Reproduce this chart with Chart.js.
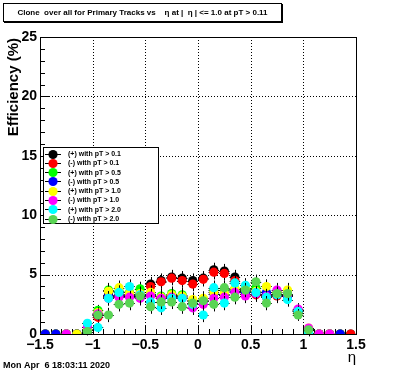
<!DOCTYPE html>
<html><head><meta charset="utf-8">
<script src="https://cdn.jsdelivr.net/npm/chart.js@4.4.1/dist/chart.umd.min.js"></script>
<style>html,body{margin:0;padding:0;background:#fff;overflow:hidden}canvas{display:block}</style>
</head><body>
<canvas id="c" width="396" height="372"></canvas>
<script>
// ---- data ----
const etaCenters = [-1.45,-1.35,-1.25,-1.15,-1.05,-0.95,-0.85,-0.75,-0.65,-0.55,-0.45,-0.35,-0.25,-0.15,-0.05,
                     0.05, 0.15, 0.25, 0.35, 0.45, 0.55, 0.65, 0.75, 0.85, 0.95, 1.05, 1.15, 1.25, 1.35, 1.45];
const seriesLabels = ["(+) with pT > 0.1","(-) with pT > 0.1","(+) with pT > 0.5","(-) with pT > 0.5",
                      "(+) with pT > 1.0","(-) with pT > 1.0","(+) with pT > 2.0","(-) with pT > 2.0"];
const seriesColors = ["#000000","#ff0000","#00ff00","#0000ff","#ffff00","#ff00ff","#00ffff","#59d454"];
const posPt01 = [0,0,0,0,0.3,1.7,3.3,3.3,3.3,3.4,4.2,4.5,4.8,4.7,4.5,4.7,5.4,5.3,4.8,3.6,3.5,3.3,3.4,3.3,1.9,0.3,0,0,0,0];
const negPt01 = [0,0,0,0,0.2,1.4,3.1,3.2,3.2,3.3,4.0,4.4,4.7,4.5,4.2,4.6,5.2,5.1,4.5,3.4,3.3,3.1,3.2,3.2,1.8,0.3,0,0,0,0];
const posPt05 = [0,0,0,0,0.3,2.0,3.7,3.6,3.5,3.8,3.4,3.2,3.4,3.3,2.8,2.9,3.7,3.7,3.8,3.9,3.9,3.4,3.5,3.3,1.9,0.4,0,0,0,null];
const negPt05 = [0,0,0,0,0.2,1.6,3.2,3.2,3.2,3.1,3.3,3.0,3.2,3.1,2.6,2.8,3.4,3.3,3.6,3.5,3.4,3.5,3.3,3.2,2.0,0.4,0,0,0,null];
const posPt10 = [null,null,0,0,0.4,1.8,3.6,3.9,3.4,3.4,3.5,3.1,3.3,3.2,2.9,3.0,3.5,3.4,3.8,3.8,3.6,4.0,3.5,3.7,2.0,0.5,0,0,null,null];
const negPt10 = [null,null,0,null,0.6,1.7,3.0,3.1,3.1,3.0,3.2,3.0,3.1,3.0,2.2,2.5,3.0,3.1,3.5,3.2,3.4,3.2,3.7,3.3,2.1,0.5,0,0,null,null];
const posPt20 = [null,null,null,null,0.9,0.55,3.0,3.5,4.0,3.3,2.7,2.2,3.0,3.0,2.5,1.6,3.9,2.6,4.3,4.1,3.5,3.1,3.3,2.9,1.9,0.1,null,null,null,null];
const negPt20 = [null,null,null,null,0.2,1.6,1.6,2.5,2.6,3.2,2.3,2.7,2.7,2.3,2.6,2.8,2.5,3.9,3.1,3.7,4.4,2.6,3.4,3.4,1.6,0.35,null,null,null,null];
const errY = [0,0,0,0,0.3,0.45,0.6,0.6,0.6,0.6,0.6,0.6,0.6,0.6,0.6,0.6,0.6,0.6,0.6,0.6,0.6,0.6,0.6,0.6,0.5,0.3,0,0,0,0];
const binHalfWidth = 0.05;
const xTickValues = [-1.5,-1,-0.5,0,0.5,1,1.5];
const yTickValues = [0,5,10,15,20,25];
const titleText = "Clone  over all for Primary Tracks vs    \u03b7 at |  \u03b7 | <= 1.0 at pT > 0.11";
const yTitle = "Efficiency (%)";
const xTitle = "\u03b7";
const dateText = "Mon Apr  6 18:03:11 2020";

const allSeries = [posPt01,negPt01,posPt05,negPt05,posPt10,negPt10,posPt20,negPt20];
const FONT = "'Liberation Sans', Arial, Helvetica, sans-serif";

const datasets = allSeries.map((vals,i)=>({
  label: seriesLabels[i],
  data: etaCenters.map((x,j)=> vals[j]===null ? null : {x:x, y:vals[j]}).filter(p=>p!==null),
  errs: etaCenters.map((x,j)=> vals[j]===null ? null : errY[j]).filter(e=>e!==null),
  backgroundColor: seriesColors[i],
  borderColor: seriesColors[i],
  pointRadius: 4.6,
  pointBorderWidth: 0,
  pointHoverRadius: 4.6,
  showLine: false,
  order: 8 - i
}));

const decor = {
  id: 'decor',
  beforeDraw(chart){
    const c = chart.ctx; c.save(); c.fillStyle='#fff'; c.fillRect(0,0,chart.width,chart.height); c.restore();
  },
  beforeDatasetsDraw(chart){
    const c = chart.ctx, a = chart.chartArea, xs = chart.scales.x, ys = chart.scales.y;
    c.save();
    // dotted grid
    c.strokeStyle = '#000'; c.lineWidth = 1; c.setLineDash([1,2]);
    xTickValues.slice(1,-1).forEach(v=>{ const px = Math.round(xs.getPixelForValue(v))+0.5;
      c.beginPath(); c.moveTo(px,a.top); c.lineTo(px,a.bottom); c.stroke(); });
    yTickValues.slice(1,-1).forEach(v=>{ const py = Math.round(ys.getPixelForValue(v))+0.5;
      c.beginPath(); c.moveTo(a.left,py); c.lineTo(a.right,py); c.stroke(); });
    c.setLineDash([]);
    // frame
    c.strokeRect(Math.round(a.left)+0.5, Math.round(a.top)+0.5, Math.round(a.right-a.left), Math.round(a.bottom-a.top));
    // x ticks
    for (let k=0;k<=30;k++){
      const v = -1.5 + k*0.1; const px = Math.round(xs.getPixelForValue(v))+0.5;
      const len = (k%5===0)?9:5;
      c.beginPath(); c.moveTo(px,a.bottom); c.lineTo(px,a.bottom-len); c.stroke();
    }
    // y ticks
    for (let k=0;k<=25;k++){
      const py = Math.round(ys.getPixelForValue(k))+0.5;
      const len = (k%5===0)?9:5;
      c.beginPath(); c.moveTo(a.left,py); c.lineTo(a.left+len,py); c.stroke();
    }
    c.restore();
  },
  beforeDatasetDraw(chart, args){
    const c = chart.ctx, xs = chart.scales.x, ys = chart.scales.y;
    const ds = chart.data.datasets[args.index];
    const r = 4.6;
    c.save(); c.strokeStyle='#000'; c.lineWidth=1;
    ds.data.forEach((p,j)=>{
      const px = xs.getPixelForValue(p.x), py = ys.getPixelForValue(p.y);
      const xl = xs.getPixelForValue(p.x-binHalfWidth), xr = xs.getPixelForValue(p.x+binHalfWidth);
      const e = ds.errs[j];
      const yt = ys.getPixelForValue(p.y+e), yb = ys.getPixelForValue(p.y-e);
      const cx = Math.round(px)+0.5, cy = Math.round(py)+0.5;
      c.beginPath();
      c.moveTo(xl,cy); c.lineTo(xr,cy);
      if (e>0){ c.moveTo(cx,yt); c.lineTo(cx,yb); }
      c.stroke();
    });
    c.restore();
  },
  afterDraw(chart){
    const c = chart.ctx, a = chart.chartArea;
    c.save();
    // title box
    c.fillStyle='#fff'; c.fillRect(3,3,279,19);
    c.strokeStyle='#000'; c.lineWidth=1; c.strokeRect(3.5,3.5,278,18);
    c.fillStyle='#000'; c.fillRect(4,22,279,1); c.fillRect(282,4,1,19);
    c.font = "bold 8px "+FONT; c.textAlign='center'; c.textBaseline='middle';
    c.fillText(titleText, 142.5, 13);
    // y title
    c.save(); c.translate(14, 38); c.rotate(-Math.PI/2);
    c.font = "bold 15px "+FONT; c.textAlign='right'; c.textBaseline='middle';
    c.fillText(yTitle, 0, 0); c.restore();
    // x title
    c.font = "15px "+FONT; c.textAlign='right'; c.textBaseline='middle';
    c.fillText(xTitle, a.right, 358);
    // date
    c.font = "bold 9px "+FONT; c.textAlign='left'; c.textBaseline='alphabetic';
    c.fillText(dateText, 3, 368);
    // legend
    const lx=43, ly=147, lw=115, lh=76;
    c.fillStyle='#fff'; c.fillRect(lx,ly,lw,lh);
    c.strokeStyle='#000'; c.lineWidth=1; c.strokeRect(lx+0.5,ly+0.5,lw,lh);
    c.font = "bold 7px "+FONT; c.textAlign='left'; c.textBaseline='middle';
    seriesLabels.forEach((lab,i)=>{
      const yy = ly + 6.5 + i*9.3;
      c.strokeStyle='#000'; c.beginPath(); c.moveTo(45,Math.round(yy)+0.5); c.lineTo(61,Math.round(yy)+0.5); c.stroke();
      c.fillStyle = seriesColors[i]; c.beginPath(); c.arc(53,Math.round(yy)+0.5,4.6,0,Math.PI*2); c.fill();
      c.fillStyle='#000'; c.fillText(lab, 68, yy+0.5);
    });
    c.restore();
  }
};

new Chart(document.getElementById('c'), {
  type: 'scatter',
  data: { datasets },
  options: {
    responsive: false, devicePixelRatio: 1, animation: false,
    layout: { padding: { left: 0, right: 40, top: 37, bottom: 0 } },
    plugins: { legend: { display: false }, tooltip: { enabled: false }, title: { display: false } },
    scales: {
      x: { type: 'linear', min: -1.5, max: 1.5,
        afterFit: s => { s.height = 38; },
        afterBuildTicks: s => { s.ticks = xTickValues.map(v=>({value:v})); },
        grid: { display: false, drawTicks: false }, border: { display: false },
        ticks: { autoSkip: false, maxRotation: 0, padding: 3, color: '#000',
          font: { family: FONT, weight: 'bold', size: 14 },
          callback: v => v===0 ? '0' : (v<0 ? '\u2212' : '') + String(Math.abs(v)) } },
      y: { type: 'linear', min: 0, max: 25,
        afterFit: s => { s.width = 40; },
        afterBuildTicks: s => { s.ticks = yTickValues.map(v=>({value:v})); },
        grid: { display: false, drawTicks: false }, border: { display: false },
        ticks: { padding: 3, color: '#000', font: { family: FONT, weight: 'bold', size: 14 },
          callback: v => String(v) } }
    }
  },
  plugins: [decor]
});
</script>
</body></html>
